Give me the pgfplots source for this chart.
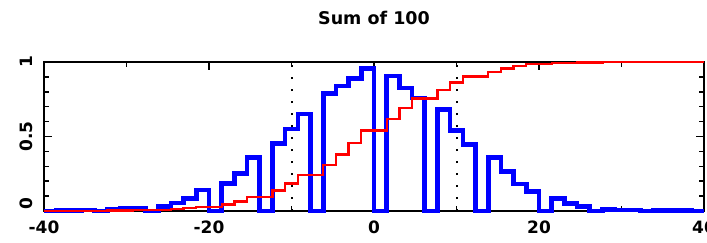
\documentclass[border=0pt]{standalone}
\usepackage{fontspec}
\setmainfont{DejaVu Sans}
\usepackage{pgfplots}
\pgfplotsset{compat=1.18}
\usepackage{pgfplotstable}

\pgfplotstableread{
x blue red
-40 0.000 0.000
-38.4615 0.003 0.001
-36.9231 0.005 0.001
-35.3846 0.007 0.002
-33.8462 0.000 0.002
-32.3077 0.012 0.003
-30.7692 0.016 0.004
-29.2308 0.020 0.006
-27.6923 0.000 0.006
-26.1538 0.030 0.008
-24.6154 0.055 0.012
-23.0769 0.085 0.018
-21.5385 0.140 0.028
-20 0.000 0.028
-18.4615 0.186 0.044
-16.9231 0.250 0.064
-15.3846 0.358 0.095
-13.8462 0.000 0.095
-12.3077 0.455 0.138
-10.7692 0.550 0.185
-9.2308 0.650 0.240
-7.6923 0.000 0.240
-6.1538 0.790 0.310
-4.6154 0.840 0.380
-3.0769 0.888 0.458
-1.5385 0.955 0.540
0 0.000 0.540
1.5385 0.905 0.618
3.0769 0.825 0.690
4.6154 0.758 0.755
6.1538 0.000 0.755
7.6923 0.680 0.813
9.2308 0.540 0.862
10.7692 0.446 0.903
12.3077 0.000 0.903
13.8462 0.360 0.934
15.3846 0.264 0.957
16.9231 0.180 0.973
18.4615 0.130 0.985
20 0.000 0.985
21.5385 0.083 0.991
23.0769 0.052 0.995
24.6154 0.030 0.997
26.1538 0.000 0.997
27.6923 0.012 0.998
29.2308 0.008 0.999
30.7692 0.006 0.999
32.3077 0.000 0.999
33.8462 0.004 1.000
35.3846 0.003 1.000
36.9231 0.002 1.000
38.4615 0.001 1.000
40 0.001 1.000
}\hist

\begin{document}
\begin{tikzpicture}
\begin{axis}[
  at={(0pt,0pt)}, anchor=south west,
  scale only axis, width=660pt, height=149pt,
  xmin=-40, xmax=40, ymin=0, ymax=1,
  xtick={-40,-20,0,20,40}, xticklabels={-40,-20,0,20,40},
  minor xtick={-30,-10,10,30},
  ytick={0,0.5,1}, yticklabels={{\hspace*{14pt}0},0.5,1},
  minor ytick={0.1,0.2,0.3,0.4,0.6,0.7,0.8,0.9},
  tick align=inside,
  major tick length=8pt, minor tick length=5pt,
  every tick/.style={black, line width=1.5pt},
  axis line style={line width=2pt},
  ticklabel style={font=\fontsize{17}{20}\selectfont\bfseries, inner sep=0pt},
  xticklabel style={anchor=north},
  xticklabel shift=10pt,
  yticklabel style={rotate=90, anchor=south},
  yticklabel shift=11pt,
  clip=false,
]
\addplot[blue, line width=4.6pt, const plot] table[x=x, y=blue]{\hist};
\addplot[red, line width=2.3pt, const plot] table[x=x, y=red]{\hist};
\addplot[black, line width=2pt, dash pattern=on 2.5pt off 9.5pt] coordinates {(-10,0) (-10,1)};
\addplot[black, line width=2pt, dash pattern=on 2.5pt off 9.5pt] coordinates {(10,0) (10,1)};
\end{axis}
\node[font=\fontsize{17.5}{20}\selectfont\bfseries] at (330pt,193pt) {Sum of 100};
\pgfresetboundingbox
\path[use as bounding box] (-44pt,-31pt) rectangle (663pt,211pt);
\end{tikzpicture}
\end{document}
